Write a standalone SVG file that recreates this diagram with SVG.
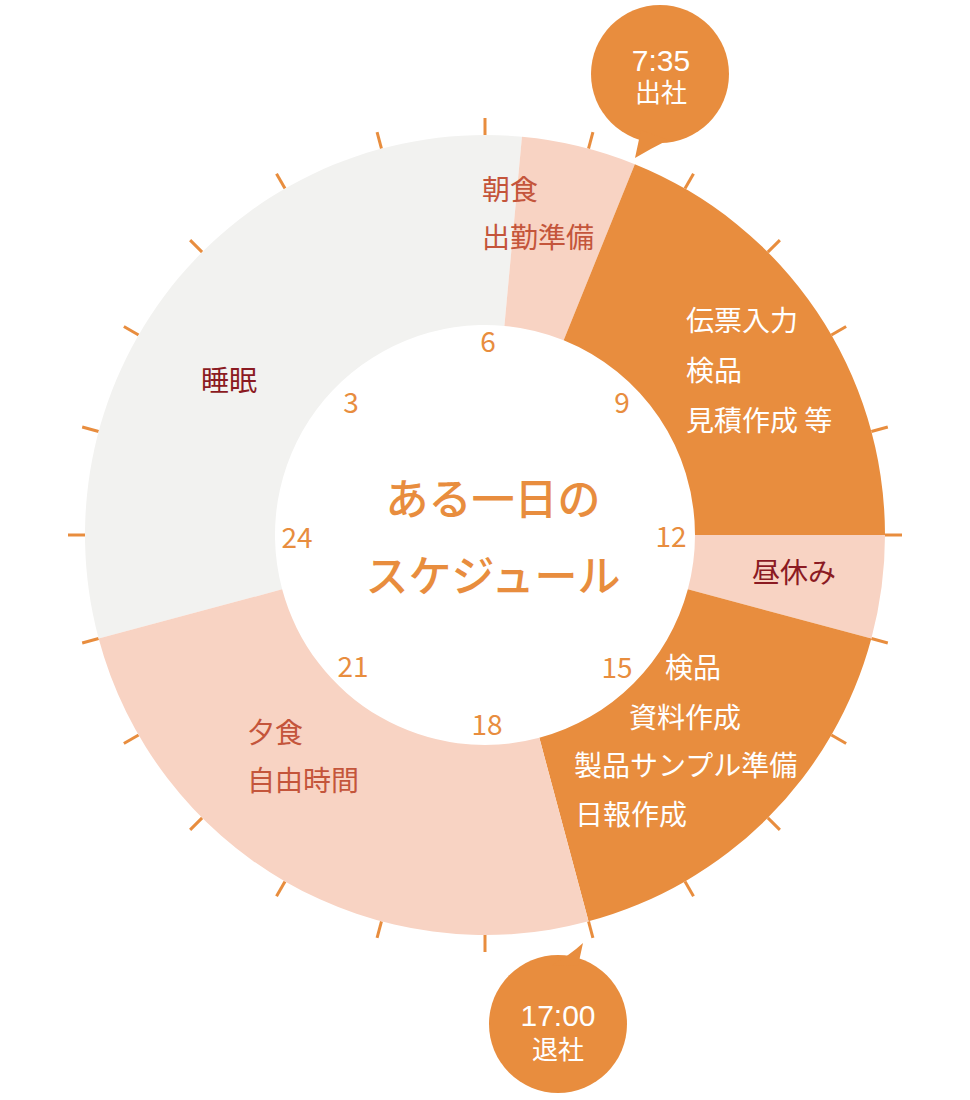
<svg xmlns="http://www.w3.org/2000/svg" width="970" height="1100" viewBox="0 0 970 1100">
<style>
.or{fill:#E88D3E}
.pk{fill:#F8D3C3}
.gy{fill:#F2F2F0}
.tick{stroke:#E88D3E;stroke-width:3;stroke-linecap:butt}
text{font-family:"Noto Sans CJK JP","Noto Sans",sans-serif}
.lb{font-size:28px}
.red{fill:#C4553B}
.dk{fill:#8B1A22}
.wh{fill:#FFFFFF}
.hr{font-size:28px;fill:#E88D3E;text-anchor:middle}
.ttl{font-size:43px;fill:#E88D3E;text-anchor:middle;font-weight:500}
.co{fill:#FFFFFF;text-anchor:middle;font-family:"Liberation Sans","Noto Sans CJK JP",sans-serif}
</style>
<rect width="970" height="1100" fill="#FFFFFF"/>
<g id="ticks">
<line class="tick" x1="885" y1="535" x2="902" y2="535" transform="rotate(0 485 535)"/>
<line class="tick" x1="885" y1="535" x2="902" y2="535" transform="rotate(15 485 535)"/>
<line class="tick" x1="885" y1="535" x2="902" y2="535" transform="rotate(30 485 535)"/>
<line class="tick" x1="885" y1="535" x2="902" y2="535" transform="rotate(45 485 535)"/>
<line class="tick" x1="885" y1="535" x2="902" y2="535" transform="rotate(60 485 535)"/>
<line class="tick" x1="885" y1="535" x2="902" y2="535" transform="rotate(75 485 535)"/>
<line class="tick" x1="885" y1="535" x2="902" y2="535" transform="rotate(90 485 535)"/>
<line class="tick" x1="885" y1="535" x2="902" y2="535" transform="rotate(105 485 535)"/>
<line class="tick" x1="885" y1="535" x2="902" y2="535" transform="rotate(120 485 535)"/>
<line class="tick" x1="885" y1="535" x2="902" y2="535" transform="rotate(135 485 535)"/>
<line class="tick" x1="885" y1="535" x2="902" y2="535" transform="rotate(150 485 535)"/>
<line class="tick" x1="885" y1="535" x2="902" y2="535" transform="rotate(165 485 535)"/>
<line class="tick" x1="885" y1="535" x2="902" y2="535" transform="rotate(180 485 535)"/>
<line class="tick" x1="885" y1="535" x2="902" y2="535" transform="rotate(195 485 535)"/>
<line class="tick" x1="885" y1="535" x2="902" y2="535" transform="rotate(210 485 535)"/>
<line class="tick" x1="885" y1="535" x2="902" y2="535" transform="rotate(225 485 535)"/>
<line class="tick" x1="885" y1="535" x2="902" y2="535" transform="rotate(240 485 535)"/>
<line class="tick" x1="885" y1="535" x2="902" y2="535" transform="rotate(255 485 535)"/>
<line class="tick" x1="885" y1="535" x2="902" y2="535" transform="rotate(270 485 535)"/>
<line class="tick" x1="885" y1="535" x2="902" y2="535" transform="rotate(285 485 535)"/>
<line class="tick" x1="885" y1="535" x2="902" y2="535" transform="rotate(300 485 535)"/>
<line class="tick" x1="885" y1="535" x2="902" y2="535" transform="rotate(315 485 535)"/>
<line class="tick" x1="885" y1="535" x2="902" y2="535" transform="rotate(330 485 535)"/>
<line class="tick" x1="885" y1="535" x2="902" y2="535" transform="rotate(345 485 535)"/>
</g>
<g id="sleep">
<path class="gy" d="M 98.63 638.53 A 400 400 0 0 1 521.95 136.71 L 504.40 325.90 A 210 210 0 0 0 282.15 589.35 Z"/>
<text class="lb dk" x="201" y="391">睡眠</text>
</g>
<g id="morning">
<path class="pk" d="M 521.95 136.71 A 400 400 0 0 1 634.84 164.13 L 563.67 340.29 A 210 210 0 0 0 504.40 325.90 Z"/>
<text class="lb red" x="482" y="200">朝食</text>
<text class="lb red" x="482" y="248">出勤準備</text>
</g>
<g id="work-am">
<path class="or" d="M 634.84 164.13 A 400 400 0 0 1 885 535 L 695 535 A 210 210 0 0 0 563.67 340.29 Z"/>
<text class="lb wh" x="686" y="331">伝票入力</text>
<text class="lb wh" x="686" y="381">検品</text>
<text class="lb wh" x="686" y="431">見積作成 等</text>
</g>
<g id="lunch">
<path class="pk" d="M 885 535 A 400 400 0 0 1 871.37 638.53 L 687.85 589.35 A 210 210 0 0 0 695 535 Z"/>
<text class="lb dk" x="752" y="583">昼休み</text>
</g>
<g id="work-pm">
<path class="or" d="M 871.37 638.53 A 400 400 0 0 1 588.53 921.37 L 539.35 737.85 A 210 210 0 0 0 687.85 589.35 Z"/>
<text class="lb wh" x="665" y="678">検品</text>
<text class="lb wh" x="629" y="728">資料作成</text>
<text class="lb wh" x="574" y="776">製品サンプル準備</text>
<text class="lb wh" x="575" y="825">日報作成</text>
</g>
<g id="evening">
<path class="pk" d="M 588.53 921.37 A 400 400 0 0 1 98.63 638.53 L 282.15 589.35 A 210 210 0 0 0 539.35 737.85 Z"/>
<text class="lb red" x="247" y="743">夕食</text>
<text class="lb red" x="247" y="791">自由時間</text>
</g>
<g id="hours">
<text class="hr" x="488" y="352">6</text>
<text class="hr" x="351" y="413">3</text>
<text class="hr" x="622" y="413">9</text>
<text class="hr" x="297" y="548">24</text>
<text class="hr" x="671" y="547">12</text>
<text class="hr" x="353" y="677">21</text>
<text class="hr" x="617" y="678">15</text>
<text class="hr" x="487" y="735">18</text>
</g>
<g id="title">
<text class="ttl" x="493" y="515">ある一日の</text>
<text class="ttl" x="493" y="592">スケジュール</text>
</g>
<g id="callout-in">
<circle class="or" cx="660" cy="74" r="69"/>
<path class="or" d="M 641 130 L 635 158 Q 650 149 668 140 Z"/>
<text class="co" x="661" y="71" style="font-size:30px">7:35</text>
<text class="co" x="661" y="102" style="font-size:26px">出社</text>
</g>
<g id="callout-out">
<circle class="or" cx="558" cy="1024" r="69"/>
<path class="or" d="M 552 965 Q 570 955 583 943 L 578 966 Z"/>
<text class="co" x="558" y="1026" style="font-size:30px">17:00</text>
<text class="co" x="558" y="1059" style="font-size:26px">退社</text>
</g>
</svg>
